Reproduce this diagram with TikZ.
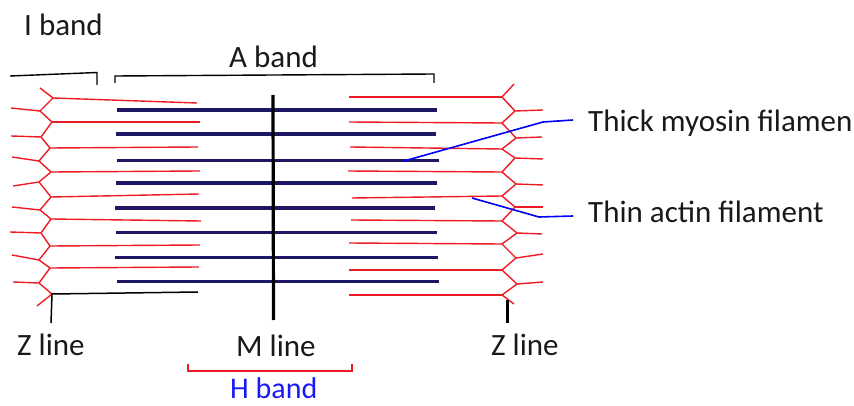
\documentclass[tikz,border=0pt]{standalone}
\usepackage{fontspec}
\setmainfont{Carlito}
\definecolor{actred}{RGB}{237,28,36}
\definecolor{navy}{RGB}{30,24,100}
\definecolor{leadblue}{RGB}{0,0,245}
\definecolor{hblue}{RGB}{25,25,250}
\definecolor{txt}{RGB}{25,25,25}
\begin{document}
\begin{tikzpicture}[x=1pt,y=-1pt,
  actin/.style={draw=actred, line width=1.4pt, line join=round},
  myosin/.style={draw=navy, line width=3.3pt},
  bracket/.style={draw=black, line width=1.4pt},
  zlead/.style={draw=black, line width=1.5pt},
  mline/.style={draw=black, line width=3.2pt},
  leader/.style={draw=leadblue, line width=1.6pt, line join=round},
  lbl/.style={inner sep=0pt, anchor=base west, font=\fontsize{31}{37}\selectfont, text=txt}]
\useasboundingbox (0,0) rectangle (854,406);

% labels
\node[lbl] (iband) at (24,36) {I band};
\node[lbl] (aband) at (229,68) {A band};
\node[lbl] (thick) at (588,132) {Thick myosin filamen};
\node[lbl] (thin) at (588,223) {Thin actin filament};
\node[lbl] (zl) at (17,355) {Z line};
\node[lbl] (ml) at (236,356) {M line};
\node[lbl] (zr) at (491,355) {Z line};
\node[lbl, text=hblue, font=\fontsize{30}{36}\selectfont] (hband) at (230,398) {H band};

% brackets
\draw[bracket] (10,76) -- (97,72.5) -- (97,85);
\draw[bracket] (115,83) -- (115,76) -- (434,74) -- (434,83);
\draw[draw=actred, line width=1.5pt] (188,364) -- (188,371) -- (352,371) -- (352,364);

% left thin filaments
\foreach \xa/\ya/\xb/\yb in {53/98/197/103, 52/122/200/122, 50/148/198/147, 51/172/200/171,
  51/197/199/194, 51/219/201/221, 50/246/200/245, 50/268/199/267}
  \draw[actin] (\xa,\ya) -- (\xb,\yb);
% left Z line
\draw[actin] (40,88) -- (53,98) -- (40,111) -- (52,122) -- (41,137) -- (50,148) -- (39,161)
  -- (51,172) -- (39,182) -- (51,197) -- (40,210) -- (51,219) -- (41,233) -- (50,246)
  -- (39,260) -- (50,268) -- (39,283) -- (52,294) -- (37,306);
\foreach \xa/\ya/\xb/\yb in {40/111/11/108, 41/137/11/136, 39/161/12/157, 39/182/13/186,
  40/210/12/207, 41/233/10/232, 39/260/12/255, 39/283/13/282}
  \draw[actin] (\xa,\ya) -- (\xb,\yb);

% right thin filaments
\foreach \xa/\ya/\xb/\yb in {349/97/502/97, 349/122/502/123, 350/147/502/149, 348/171/502/172,
  352/198/502/196, 351/220/502/221, 349/243/502/244, 349/270/502/270, 349/295/502/295}
  \draw[actin] (\xa,\ya) -- (\xb,\yb);
% right Z line
\draw[actin] (514,84) -- (502,97) -- (515,111) -- (502,123) -- (516,138) -- (502,149) -- (515,158)
  -- (502,172) -- (516,184) -- (502,196) -- (515,207) -- (502,221) -- (517,233) -- (502,244)
  -- (516,258) -- (502,270) -- (517,284) -- (502,295) -- (514,304);
\foreach \xa/\ya/\xb/\yb in {515/111/543/110, 516/138/542/137, 515/158/543/159, 516/184/543/185,
  515/207/543/207, 517/233/542/234, 516/258/543/254, 517/284/543/282}
  \draw[actin] (\xa,\ya) -- (\xb,\yb);

% thick filaments
\foreach \a/\y/\b in {117/110/437, 116/134/436, 117/160.5/439, 116/183/437,
  115/208/435, 116/232.5/437, 115/257.5/438, 117/281.5/439}
  \draw[myosin] (\a,\y) -- (\b,\y);

% M line
\draw[mline] (273,95) -- (273.5,320);

% Z line leaders
\draw[zlead] (198,292) -- (52,294) -- (51,323);
\draw[draw=black, line width=3pt] (507,300) -- (507,323);

% blue leaders
\coordinate (thickpt) at (404,161);
\coordinate (thinpt) at (472,198);
\coordinate (thickend) at (573,120);
\coordinate (thinend) at (573,216);
\draw[leader] (thickpt) -- (543,122) -- (thickend);
\draw[leader] (thinpt) -- (539,217) -- (thinend);
\end{tikzpicture}
\end{document}
